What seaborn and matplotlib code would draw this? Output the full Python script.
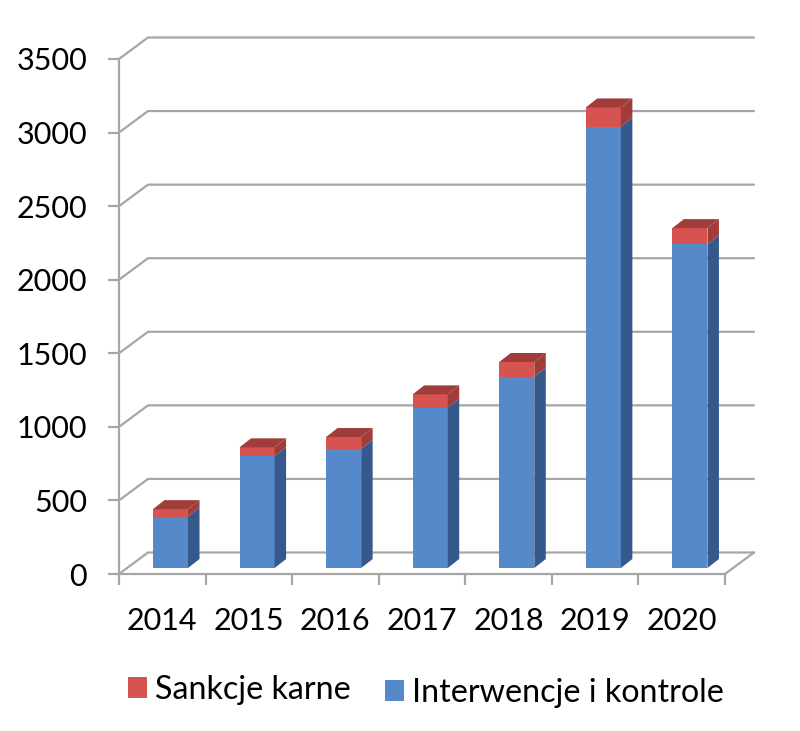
import matplotlib
matplotlib.use('Agg')
import matplotlib.pyplot as plt
import matplotlib.transforms as mtransforms
from matplotlib.patches import Patch
import seaborn as sns

lata = ['2014', '2015', '2016', '2017', '2018', '2019', '2020']
interwencje = [350, 760, 810, 1090, 1300, 3000, 2200]
sankcje = [50, 60, 80, 90, 100, 130, 110]
y_ticks = [0, 500, 1000, 1500, 2000, 2500, 3000, 3500]

NIEBIESKI = '#5589CA'
NIEBIESKI_BOK = '#35598C'
CZERWONY = '#D6534F'
CZERWONY_BOK = '#A03C39'
SZARY = '#A6A6A6'

sns.set_theme(style='white')
plt.rcParams['font.family'] = ['Lato', 'DejaVu Sans']

W, H = 800, 731
fig = plt.figure(figsize=(W / 100, H / 100), dpi=100)
ax = fig.add_axes([119 / W, 1 - 574 / H, 606 / W, 515 / H])

razem = [a + b for a, b in zip(interwencje, sankcje)]

# slupki: najpierw suma, na niej czesc niebieska
sns.barplot(x=lata, y=razem, color=CZERWONY, width=0.405, saturation=1, ax=ax, zorder=3, linewidth=0)
sns.barplot(x=lata, y=interwencje, color=NIEBIESKI, width=0.405, saturation=1, ax=ax, zorder=3, linewidth=0)

ax.set_xlim(-0.5, 6.5)
ax.set_ylim(0, 3500)

# przeliczenie pikseli na jednostki danych
px_x = 7 / 606
px_y = 3500 / 515

# sciana tylna i podloga
sx, sy = 29 * px_x, 21.5 * px_y
for v in y_ticks:
    ax.plot([-0.5, -0.5 + sx, 6.5 + sx], [v, v + sy, v + sy], color=SZARY, lw=1.6,
            clip_on=False, zorder=1, solid_joinstyle='miter')
ax.plot([6.5, 6.5 + sx], [0, sy], color=SZARY, lw=1.6, clip_on=False, zorder=1)

# przesuniecie slupkow wzgledem osi (efekt 3D)
przes = mtransforms.offset_copy(ax.transData, fig=fig, x=8.2, y=6, units='dots')
for p in ax.patches:
    p.set_transform(przes)
    p.set_clip_on(False)

# boki i gorne sciany slupkow
gx, gy = 11.5 * px_x, 9 * px_y
pol = 0.405 / 2
for i in range(len(lata)):
    prawa = i + pol
    lewa = i - pol
    ax.fill([prawa, prawa + gx, prawa + gx, prawa],
            [0, gy, interwencje[i] + gy, interwencje[i]],
            color=NIEBIESKI_BOK, lw=0, transform=przes, clip_on=False, zorder=3)
    ax.fill([prawa, prawa + gx, prawa + gx, prawa],
            [interwencje[i], interwencje[i] + gy, razem[i] + gy, razem[i]],
            color=CZERWONY_BOK, lw=0, transform=przes, clip_on=False, zorder=3)
    ax.fill([lewa, lewa + gx, prawa + gx, prawa],
            [razem[i], razem[i] + gy, razem[i] + gy, razem[i]],
            color=CZERWONY_BOK, lw=0, transform=przes, clip_on=False, zorder=3)

# osie
sns.despine(ax=ax, top=True, right=True)
for s in ['left', 'bottom']:
    ax.spines[s].set_color(SZARY)
    ax.spines[s].set_linewidth(1.6)

ax.set_yticks(y_ticks)
ax.set_xticks([i - 0.5 for i in range(len(lata) + 1)])
ax.set_xticklabels([])
ax.set_xticks(range(len(lata)), labels=lata, minor=True)
ax.tick_params(axis='y', length=8, width=1.6, color=SZARY, labelsize=22, pad=15,
               left=True, labelcolor='black')
ax.tick_params(axis='x', which='major', length=8, width=1.6, color=SZARY, bottom=True)
ax.tick_params(axis='x', which='minor', length=0, labelsize=22, pad=24, labelcolor='black')
ax.set_xlabel('')
ax.set_ylabel('')


def legenda(kolor, tekst, x_px, y_px):
    return ax.legend(handles=[Patch(color=kolor, label=tekst, linewidth=0)], loc='center left',
                     bbox_to_anchor=(x_px / W, 1 - y_px / H), bbox_transform=fig.transFigure,
                     frameon=False, fontsize=23.2, handlelength=0.6, handleheight=0.6,
                     handletextpad=0.25, borderpad=0, borderaxespad=0, labelcolor='black')


ax.add_artist(legenda(CZERWONY, 'Sankcje karne', 128, 690))
legenda(NIEBIESKI, 'Interwencje i kontrole', 385, 693)

fig.savefig('out.png', dpi=100, facecolor='white')
